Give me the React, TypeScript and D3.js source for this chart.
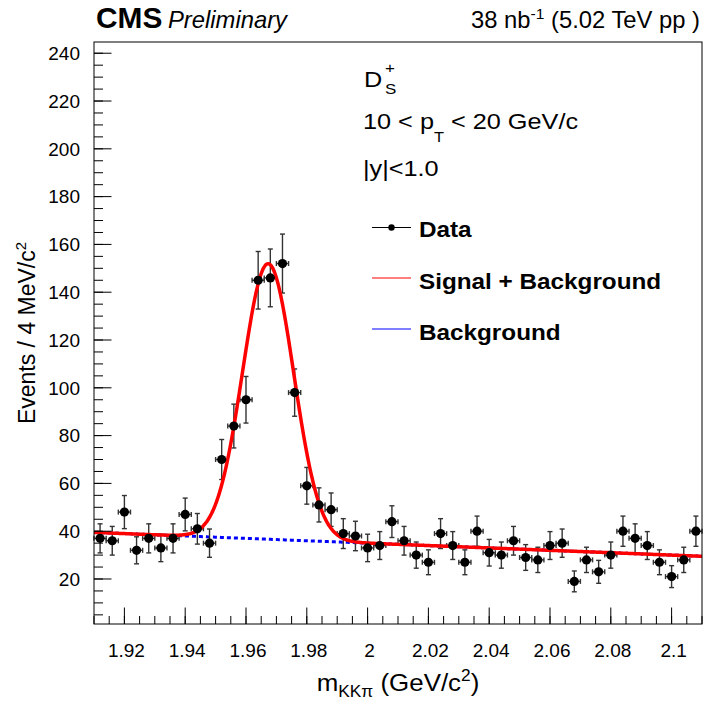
import React from "react";
import * as d3 from "d3";

// ---- data ----
const binCenters = [
  1.912, 1.916, 1.92, 1.924, 1.928, 1.932, 1.936, 1.94, 1.944, 1.948,
  1.952, 1.956, 1.96, 1.964, 1.968, 1.972, 1.976, 1.98, 1.984, 1.988,
  1.992, 1.996, 2.0, 2.004, 2.008, 2.012, 2.016, 2.02, 2.024, 2.028,
  2.032, 2.036, 2.04, 2.044, 2.048, 2.052, 2.056, 2.06, 2.064, 2.068,
  2.072, 2.076, 2.08, 2.084, 2.088, 2.092, 2.096, 2.1, 2.104, 2.108,
];
const counts = [
  37, 36, 48, 32, 37, 33, 37, 47, 41, 35,
  70, 84, 95, 145, 146, 152, 98, 59, 51, 49,
  39, 38, 33, 34, 44, 36, 30, 27, 39, 34,
  27, 40, 31, 30, 36, 29, 28, 34, 35, 19,
  28, 23, 30, 40, 37, 34, 27, 21, 28, 40,
];
const binHalfWidth = 0.002;

const xTickValues = [1.92, 1.94, 1.96, 1.98, 2.0, 2.02, 2.04, 2.06, 2.08, 2.1];
const xTickLabels = ["1.92", "1.94", "1.96", "1.98", "2", "2.02", "2.04", "2.06", "2.08", "2.1"];
const yTickValues = [20, 40, 60, 80, 100, 120, 140, 160, 180, 200, 220, 240];

// fit parameters (Gaussian signal + linear background)
const fitMean = 1.9673;
const fitSigma = 0.0084;
const fitAmp = 115.3;
const bgAtLow = 39.5;
const bgAtHigh = 29.5;

const xDomain = [1.91, 2.11];
const yDomain = [1.17, 244.7];

// ---- layout ----
const W = 708;
const H = 706;
const L = 94;
const R = 702;
const T = 42;
const B = 624;
const FONT = "'Liberation Sans', Arial, Helvetica, sans-serif";

function ST(props: {
  x: number;
  y: number;
  sx: number;
  size: number;
  anchor?: string;
  weight?: string;
  italic?: boolean;
  children: React.ReactNode;
}) {
  return (
    <text
      transform={`translate(${props.x},${props.y}) scale(${props.sx},1)`}
      fontSize={props.size}
      textAnchor={props.anchor || "start"}
      fontWeight={props.weight || "normal"}
      fontStyle={props.italic ? "italic" : "normal"}
      fill="#000"
    >
      {props.children}
    </text>
  );
}

export default function App() {
  const x = d3.scaleLinear().domain(xDomain).range([L, R]);
  const y = d3.scaleLinear().domain(yDomain).range([B, T]);

  const bg = (m: number) =>
    bgAtLow + ((bgAtHigh - bgAtLow) * (m - xDomain[0])) / (xDomain[1] - xDomain[0]);
  const total = (m: number) =>
    bg(m) + fitAmp * Math.exp(-0.5 * ((m - fitMean) / fitSigma) ** 2);

  const samples = d3.range(0, 801).map((i) => xDomain[0] + ((xDomain[1] - xDomain[0]) * i) / 800);
  const totalPath = d3.line<number>().x((m) => x(m)).y((m) => y(total(m)))(samples) || "";
  const bgPath = d3.line<number>().x((m) => x(m)).y((m) => y(bg(m)))(samples) || "";

  const xMinor = d3.range(0, 41).map((i) => xDomain[0] + i * 0.005);
  const yMinor = d3.range(5, 245, 5);

  const annSx = 1.17;
  const legSx = 1.12;

  return (
    <div style={{ position: "absolute", left: 0, top: 0 }}>
      <svg width={W} height={H} style={{ display: "block", background: "#fff" }} fontFamily={FONT}>
        <rect x={0} y={0} width={W} height={H} fill="#fff" />

        {/* background (dashed blue) under the total fit */}
        <path d={bgPath} fill="none" stroke="#0000ff" strokeWidth={3} strokeDasharray="4,3" />

        {/* data points */}
        {binCenters.map((m, i) => {
          const n = counts[i];
          const e = Math.sqrt(n);
          const cx = x(m);
          const cy = y(n);
          const yt = y(n + e);
          const yb = y(n - e);
          const xl = x(m - binHalfWidth);
          const xr = x(m + binHalfWidth);
          return (
            <g key={i} stroke="#333" strokeWidth={1.4}>
              <line x1={cx} x2={cx} y1={yt} y2={yb} />
              <line x1={cx - 2.5} x2={cx + 2.5} y1={yt} y2={yt} />
              <line x1={cx - 2.5} x2={cx + 2.5} y1={yb} y2={yb} />
              <line x1={xl} x2={xr} y1={cy} y2={cy} />
              <line x1={xl} x2={xl} y1={cy - 2.5} y2={cy + 2.5} />
              <line x1={xr} x2={xr} y1={cy - 2.5} y2={cy + 2.5} />
            </g>
          );
        })}

        {/* total fit */}
        <path d={totalPath} fill="none" stroke="#ff0000" strokeWidth={3.5} />

        {binCenters.map((m, i) => (
          <circle key={"c" + i} cx={x(m)} cy={y(counts[i])} r={4.6} fill="#000" />
        ))}

        {/* frame */}
        <rect x={L} y={T} width={R - L} height={B - T} fill="none" stroke="#000" strokeWidth={1} />

        {/* x axis ticks */}
        {xMinor.map((v, i) => (
          <line key={"xm" + i} x1={x(v)} x2={x(v)} y1={B} y2={B - 8} stroke="#000" strokeWidth={1} />
        ))}
        {xTickValues.map((v, i) => (
          <line key={"xM" + i} x1={x(v)} x2={x(v)} y1={B} y2={B - 16.5} stroke="#000" strokeWidth={1} />
        ))}
        {xTickValues.map((v, i) => (
          <text key={"xl" + i} x={x(v) + 2} y={657} fontSize={19} textAnchor="middle" fill="#000">
            {xTickLabels[i]}
          </text>
        ))}

        {/* y axis ticks */}
        {yMinor.map((v, i) => (
          <line key={"ym" + i} x1={L} x2={L + 9} y1={y(v)} y2={y(v)} stroke="#000" strokeWidth={1} />
        ))}
        {yTickValues.map((v, i) => (
          <line key={"yM" + i} x1={L} x2={L + 17.5} y1={y(v)} y2={y(v)} stroke="#000" strokeWidth={1} />
        ))}
        {yTickValues.map((v, i) => (
          <text key={"yl" + i} x={80} y={y(v) + 6.8} fontSize={19} textAnchor="end" fill="#000">
            {String(v)}
          </text>
        ))}

        {/* axis titles */}
        <ST x={398} y={691} sx={1.08} size={24} anchor="middle">
          m<tspan fontSize={16} dy={6}>KKπ</tspan>
          <tspan dy={-6}> (GeV/c</tspan>
          <tspan fontSize={16} dy={-10}>2</tspan>
          <tspan dy={10}>)</tspan>
        </ST>
        <text
          transform={`translate(35,333) rotate(-90)`}
          fontSize={23}
          textAnchor="middle"
          fill="#000"
        >
          Events / 4 MeV/c<tspan fontSize={15} dy={-9}>2</tspan>
        </text>

        {/* header */}
        <ST x={96} y={28} sx={1.03} size={29} weight="bold">CMS</ST>
        <ST x={168} y={28} sx={1.035} size={23} italic>Preliminary</ST>
        <ST x={700} y={28} sx={1.035} size={23} anchor="end">
          38 nb<tspan fontSize={15} dy={-9}>-1</tspan>
          <tspan dy={9}> (5.02 TeV pp )</tspan>
        </ST>

        {/* annotations */}
        <ST x={364} y={87} sx={annSx} size={21.6}>D</ST>
        <ST x={385} y={94} sx={annSx} size={14.5}>S</ST>
        <ST x={385} y={73} sx={annSx} size={14.5}>+</ST>
        <ST x={363} y={129} sx={annSx} size={21.6}>
          10 &lt; p<tspan fontSize={14} dy={13.5}>T</tspan>
          <tspan dy={-13.5}> &lt; 20 GeV/c</tspan>
        </ST>
        <ST x={363} y={176} sx={annSx} size={21.6}>|y|&lt;1.0</ST>

        {/* legend */}
        <line x1={372} x2={411} y1={227.5} y2={227.5} stroke="#000" strokeWidth={1} />
        <circle cx={391.5} cy={227.5} r={3.2} fill="#000" />
        <ST x={419} y={237} sx={legSx} size={21.7} weight="bold">Data</ST>
        <line x1={372} x2={411} y1={278} y2={278} stroke="#ff0000" strokeWidth={1} />
        <ST x={419} y={289} sx={legSx} size={21.7} weight="bold">Signal + Background</ST>
        <line x1={372} x2={411} y1={329} y2={329} stroke="#0000ff" strokeWidth={1} />
        <ST x={419} y={339.5} sx={legSx} size={21.7} weight="bold">Background</ST>
      </svg>
    </div>
  );
}
